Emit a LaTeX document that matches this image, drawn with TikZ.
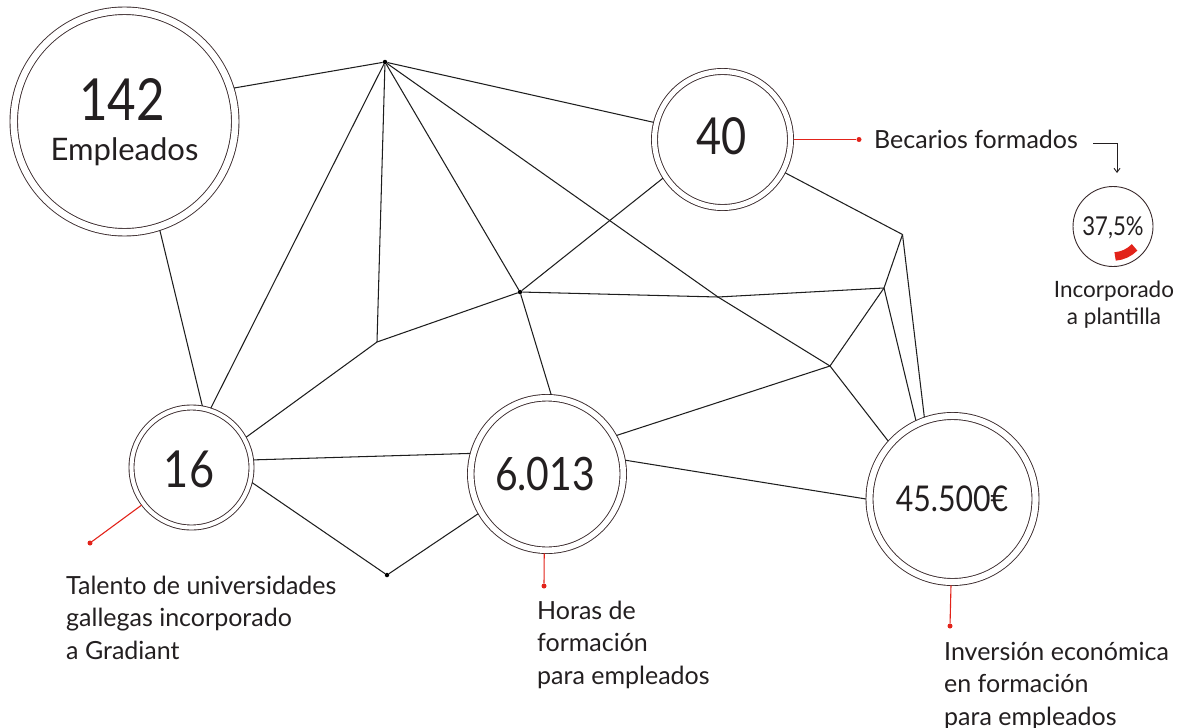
\documentclass[tikz,border=0pt]{standalone}
\usepackage{fontspec}
\setmainfont{Lato}
\newfontfamily\numfont[FakeStretch=0.85]{Lato}
\usetikzlibrary{arrows.meta}
\definecolor{ink}{HTML}{231F20}
\definecolor{circ}{HTML}{3A2A2C}
\definecolor{netc}{HTML}{1E1E1E}
\definecolor{accent}{HTML}{E2231A}
\tikzset{
 statc/.style={circle, draw=circ, line width=0.9pt, double=white, inner sep=0pt},
 net/.style={draw=netc, line width=1.05pt},
 redl/.style={draw=accent, line width=1.1pt},
 reddot/.style={circle, fill=accent, inner sep=0pt, minimum size=5pt},
 netdot/.style={circle, fill=black, inner sep=0pt, minimum size=4.5pt},
 lbl/.style={anchor=base west, inner sep=0pt, text=ink, font=\fontsize{25}{30}\selectfont},
 num/.style={anchor=base, inner sep=0pt, text=ink},
}
\begin{document}
\begin{tikzpicture}[x=1pt,y=-1pt]
\useasboundingbox (0,0) rectangle (1186,728);
% circles
\node[statc, double distance=6.6pt, minimum size=221.5pt, outer sep=3.75pt] (n142) at (124.5,121.5) {};
\node[statc, double distance=5.1pt, minimum size=136pt, outer sep=3pt] (n40) at (722.5,139.5) {};
\node[statc, double distance=4.1pt, minimum size=120pt, outer sep=2.5pt] (n16) at (191.5,467.5) {};
\node[statc, double distance=5.6pt, minimum size=152.5pt, outer sep=3.25pt] (n6) at (547,474) {};
\node[statc, double distance=6.1pt, minimum size=166pt, outer sep=3.5pt] (n45) at (952.5,499) {};
\node[circle, draw=circ, line width=0.9pt, minimum size=80pt, inner sep=0pt] (n37) at (1113,226.5) {};
% numbers
\node[num, font=\numfont\fontsize{58}{58}\selectfont] (t142) at (122,120) {142};
\node[num, font=\fontsize{31}{31}\selectfont] (temp) at (124.5,160) {Empleados};
\node[num, font=\numfont\fontsize{51}{51}\selectfont] (t40) at (721.5,154) {40};
\node[num, font=\numfont\fontsize{51}{51}\selectfont] (t16) at (189,487) {16};
\node[num, font=\numfont\fontsize{46}{46}\selectfont] (t6) at (545,490) {6.013};
\node[num, font=\numfont\fontsize{35.5}{35.5}\selectfont] (t45) at (952,511) {45.500€};
\node[num, font=\numfont\fontsize{26}{26}\selectfont] (t37) at (1113,235.5) {37,5\%};
% red arc
\draw[accent, line width=8.5pt] (n37.center) ++(44:30) arc[start angle=44, end angle=86, radius=30];
% junctions
\node[netdot] (T) at (385,62) {};
\node[netdot] (M) at (520,292) {};
\node[netdot] (B) at (387,575) {};
\coordinate (J1) at (377,342);
\coordinate (J2) at (902.5,234.5);
\coordinate (J3) at (884,288);
\coordinate (J4) at (830,366);
\coordinate (X) at (718,297);
% network
\draw[net] (n142.17) -- (T);
\draw[net] (T) -- (n40.166);
\draw[net] (T) -- (n16.72);
\draw[net] (T) -- (J1);
\draw[net] (T) -- (M);
\draw[net] (T) -- (X) -- (J4);
\draw[net] (n142.-72) -- (n16.80.5);
\draw[net] (n40.-147.5) -- (M);
\draw[net] (n40.-28.2) -- (J2);
\draw[net] (M) -- (X) -- (J3);
\draw[net] (M) -- (n6.87);
\draw[net] (J1) -- (M);
\draw[net] (J1) -- (n16.29);
\draw[net] (n16.7.6) -- (n6.165);
\draw[net] (n16.-14) -- (B);
\draw[net] (B) -- (n6.-150.5);
\draw[net] (n6.29) -- (J4);
\draw[net] (n6.10.2) -- (n45.180.7);
\draw[net] (J2) -- (J3);
\draw[net] (J2) -- (n45.109.8);
\draw[net] (J3) -- (n45.115.4);
\draw[net] (J3) -- (J4);
\draw[net] (J4) -- (n45.138.4);
% red callouts
\node[reddot] (d40) at (859,139.5) {};
\node[reddot] (d16) at (90,543) {};
\node[reddot] (d6) at (544,586) {};
\node[reddot] (d45) at (950,626) {};
\draw[redl] (n40.0) -- (d40);
\draw[redl] (n16.-143) -- (d16);
\draw[redl] (n6.-92) -- (d6);
\draw[redl] (n45.-91.7) -- (d45);
% labels
\node[lbl] (lb1) at (874,148) {Becarios formados};
\coordinate (arrS) at (1093,143);
\coordinate (arrE) at (1117,173);
\draw[draw=ink, line width=0.9pt, -{Straight Barb[length=4pt,width=6pt]}] (arrS) -| (arrE);
\node[num, font=\fontsize{22.5}{22.5}\selectfont] (inc1) at (1114,297) {Incorporado};
\node[num, font=\fontsize{22.5}{22.5}\selectfont] (inc2) at (1114,324) {a plantilla};
\node[lbl] (ta1) at (66,594) {Talento de universidades};
\node[lbl] (ta2) at (66,626.5) {gallegas incorporado};
\node[lbl] (ta3) at (66,659) {a Gradiant};
\node[lbl] (ho1) at (537,619) {Horas de};
\node[lbl] (ho2) at (537,651.5) {formación};
\node[lbl] (ho3) at (537,684) {para empleados};
\node[lbl] (in1) at (944,660) {Inversión económica};
\node[lbl] (in2) at (944,692.5) {en formación};
\node[lbl] (in3) at (944,725) {para empleados};
\end{tikzpicture}
\end{document}
